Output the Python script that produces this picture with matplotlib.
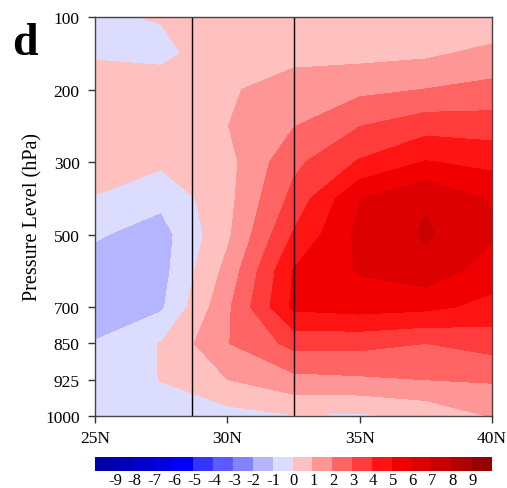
import numpy as np
import matplotlib
matplotlib.use("Agg")
import matplotlib.pyplot as plt
from matplotlib.colors import ListedColormap, BoundaryNorm

plt.rcParams["font.family"] = ["Liberation Serif", "DejaVu Serif"]

# Grid
lats = [25.0, 27.5, 30.0, 32.5, 35.0, 37.5, 40.0]
levels_hpa = [100, 150, 200, 250, 300, 400, 500, 600, 700, 850, 925, 1000]

# Anomaly field: rows = pressure levels (top to bottom), columns = latitudes
anom = np.array([
    # 25.0   27.5   30.0   32.5   35.0   37.5   40.0
    [-0.20,  0.10,  0.50,  0.50,  0.45,  0.55,  0.20],   # 100
    [-0.15, -0.40,  0.93,  0.75,  0.68,  0.81,  1.28],   # 150
    [ 0.65,  0.80,  0.90,  1.36,  1.75,  2.02,  2.30],   # 200
    [ 0.60,  0.70,  0.98,  1.95,  2.97,  3.58,  3.50],   # 250
    [ 0.50,  0.20,  0.67,  2.75,  4.10,  5.06,  4.70],   # 300
    [-0.05, -0.75,  0.69,  3.30,  5.97,  6.90,  5.90],   # 400
    [-0.90, -1.40,  0.80,  4.10,  6.27,  7.13,  6.15],   # 500
    [-1.40, -1.35,  1.30,  5.05,  6.09,  6.63,  5.50],   # 600
    [-1.50, -1.15,  1.80,  5.20,  5.40,  5.23,  4.70],   # 700
    [-0.95,  0.05,  1.95,  3.30,  3.29,  3.00,  3.40],   # 850
    [-0.60,  0.03,  0.98,  1.70,  1.84,  2.00,  2.10],   # 925
    [-0.40, -0.50, -0.38, -0.05, -0.15,  0.25,  1.05],   # 1000
])

contour_levels = list(range(-9, 10))
# one colour per shaded interval: below -9, the 18 inner bins, above 9
shade_colors = [
    "#0000a8", "#0000b8", "#0000cc", "#0000e0", "#0000ff",
    "#3434ff", "#5a5aff", "#8282ff", "#b4b4ff", "#dcdcff",
    "#ffc0c0", "#ff9696", "#ff6464", "#ff3c3c", "#ff1414",
    "#f00000", "#dc0000", "#c80000", "#b00000", "#960000",
]
cmap = ListedColormap(shade_colors[1:-1])
cmap.set_under(shade_colors[0])
cmap.set_over(shade_colors[-1])
norm = BoundaryNorm(contour_levels, cmap.N)

ytick_levels = [100, 200, 300, 500, 700, 850, 925, 1000]
xtick_lats = [25, 30, 35, 40]
xtick_labels = ["25N", "30N", "35N", "40N"]
marker_lats = [28.65, 32.5]

W, H = 507, 489
fig = plt.figure(figsize=(W / 100, H / 100), dpi=100)
ax = fig.add_axes([95 / W, (H - 417) / H, 397 / W, 399 / H])

y_idx = np.arange(len(levels_hpa))
X, Y = np.meshgrid(lats, y_idx)
cf = ax.contourf(X, Y, anom, levels=contour_levels, cmap=cmap, norm=norm,
                 extend="both", antialiased=False)

for lat in marker_lats:
    ax.axvline(lat, color="black", lw=1.0)

ax.set_xlim(lats[0], lats[-1])
ax.set_ylim(y_idx[-1], y_idx[0])
ax.set_xticks(xtick_lats)
ax.set_xticklabels(xtick_labels)
ax.set_yticks([levels_hpa.index(p) for p in ytick_levels])
ax.set_yticklabels([str(p) for p in ytick_levels])
ax.tick_params(axis="both", direction="out", length=5, width=1,
               labelsize=12.5, color="#333333")
ax.tick_params(axis="y", pad=6)
ax.tick_params(axis="x", pad=5)
for sp in ax.spines.values():
    sp.set_color("#444444")
    sp.set_linewidth(1.0)

fig.text(33 / W, 1 - 217.5 / H, "Pressure Level (hPa)", rotation=90,
         ha="center", va="center", fontsize=14.5)
fig.text(12 / W, 1 - 55 / H, "d", fontsize=33, fontweight="bold",
         ha="left", va="baseline")

cax = fig.add_axes([95 / W, (H - 472) / H, 397 / W, 14 / H])
cb = fig.colorbar(cf, cax=cax, orientation="horizontal", extend="both",
                  extendrect=True, extendfrac=1 / 18, ticks=contour_levels)
cb.set_ticklabels([str(v) for v in contour_levels])
cb.outline.set_visible(False)
cb.ax.tick_params(length=0, labelsize=12, pad=1)
if cb.solids is not None:
    cb.solids.set_edgecolor("face")

fig.savefig("out.png", dpi=100)
